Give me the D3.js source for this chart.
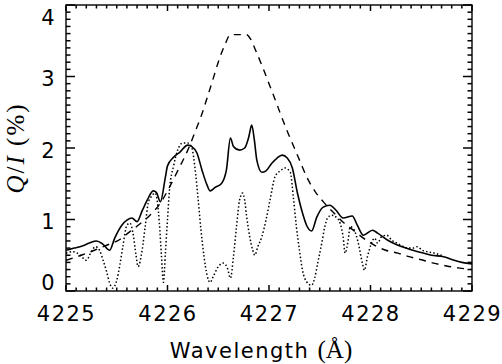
<!DOCTYPE html>
<html>
<head>
<meta charset="utf-8">
<script src="https://cdn.jsdelivr.net/npm/d3@7"></script>
<style>
    body { margin: 0; background: #fff; }
    svg { display: block; }
    .tick text { font-family: "DejaVu Sans", sans-serif; font-size: 21px; letter-spacing: 1.5px; fill: #000; }
    .domain { display: none; }
</style>
</head>
<body>
<svg id="chart"></svg>
<script>
'use strict';

// wavelength grid of each curve (Angstrom) and Q/I in percent
const solidX = [4225.00, 4225.08, 4225.16, 4225.23, 4225.30, 4225.36, 4225.43, 4225.48, 4225.55, 4225.60,
    4225.65, 4225.70, 4225.75, 4225.80, 4225.86, 4225.89, 4225.93, 4225.98, 4226.00, 4226.06,
    4226.12, 4226.20, 4226.24, 4226.29, 4226.34, 4226.39, 4226.42, 4226.47, 4226.53, 4226.58,
    4226.62, 4226.65, 4226.71, 4226.76, 4226.80, 4226.83, 4226.855, 4226.88, 4226.93, 4226.97,
    4227.03, 4227.08, 4227.13, 4227.18, 4227.23, 4227.28, 4227.33, 4227.37, 4227.42, 4227.47,
    4227.53, 4227.60, 4227.66, 4227.73, 4227.82, 4227.87, 4227.93, 4228.02, 4228.07, 4228.17,
    4228.27, 4228.37, 4228.47, 4228.60, 4228.72, 4228.80, 4228.90, 4229.00];
const solidQ = [0.57, 0.60, 0.63, 0.67, 0.70, 0.66, 0.57, 0.74, 0.92, 0.99,
    1.02, 0.97, 1.12, 1.27, 1.40, 1.38, 1.25, 1.60, 1.75, 1.87,
    1.94, 2.04, 2.02, 1.93, 1.69, 1.48, 1.40, 1.45, 1.50, 1.69,
    2.14, 2.02, 1.97, 2.00, 2.15, 2.32, 2.12, 1.83, 1.66, 1.68,
    1.79, 1.86, 1.90, 1.86, 1.72, 1.37, 1.09, 0.92, 0.84, 1.03,
    1.17, 1.20, 1.13, 1.02, 1.05, 0.92, 0.78, 0.85, 0.81, 0.71,
    0.64, 0.59, 0.55, 0.50, 0.48, 0.44, 0.40, 0.38];

const dashedX = [4225.00, 4225.15, 4225.28, 4225.40, 4225.53, 4225.62, 4225.73, 4225.82, 4225.94, 4226.00,
    4226.10, 4226.20, 4226.27, 4226.34, 4226.39, 4226.45, 4226.50, 4226.57, 4226.62, 4226.78,
    4226.82, 4226.87, 4226.94, 4227.00, 4227.06, 4227.12, 4227.19, 4227.25, 4227.31, 4227.37,
    4227.46, 4227.54, 4227.64, 4227.74, 4227.83, 4227.92, 4228.05, 4228.15, 4228.27, 4228.38,
    4228.49, 4228.62, 4228.75, 4228.88, 4229.00];
const dashedQ = [0.43, 0.50, 0.57, 0.64, 0.72, 0.82, 0.94, 1.05, 1.25, 1.40,
    1.68, 1.97, 2.22, 2.48, 2.70, 2.97, 3.20, 3.46, 3.585, 3.585,
    3.52, 3.36, 3.12, 2.90, 2.68, 2.45, 2.20, 2.00, 1.80, 1.60,
    1.38, 1.24, 1.09, 0.95, 0.85, 0.75, 0.63, 0.57, 0.53, 0.48,
    0.44, 0.39, 0.35, 0.32, 0.30];

const dottedX = [4225.00, 4225.07, 4225.14, 4225.20, 4225.25, 4225.29, 4225.33, 4225.37, 4225.40, 4225.43,
    4225.46, 4225.50, 4225.53, 4225.56, 4225.60, 4225.63, 4225.66, 4225.69, 4225.71, 4225.75,
    4225.78, 4225.81, 4225.84, 4225.88, 4225.90, 4225.92, 4225.94, 4225.96, 4225.98, 4226.00,
    4226.02, 4226.06, 4226.10, 4226.15, 4226.20, 4226.24, 4226.27, 4226.30, 4226.33, 4226.36,
    4226.39, 4226.42, 4226.45, 4226.50, 4226.55, 4226.59, 4226.62, 4226.65, 4226.68, 4226.71,
    4226.74, 4226.76, 4226.78, 4226.81, 4226.84, 4226.86, 4226.89, 4226.93, 4226.97, 4227.01,
    4227.06, 4227.11, 4227.16, 4227.21, 4227.24, 4227.27, 4227.30, 4227.33, 4227.37, 4227.42,
    4227.45, 4227.48, 4227.52, 4227.55, 4227.58, 4227.62, 4227.67, 4227.70, 4227.73, 4227.75,
    4227.78, 4227.80, 4227.84, 4227.88, 4227.92, 4227.94, 4227.97, 4228.01, 4228.04, 4228.07,
    4228.11, 4228.16, 4228.21, 4228.26, 4228.31, 4228.37, 4228.42, 4228.46, 4228.51, 4228.56,
    4228.63, 4228.70];
const dottedQ = [0.53, 0.55, 0.50, 0.43, 0.55, 0.62, 0.57, 0.41, 0.27, 0.11,
    0.04, 0.15, 0.36, 0.62, 0.92, 0.95, 0.81, 0.50, 0.34, 0.57,
    0.90, 1.23, 1.32, 1.37, 1.25, 0.95, 0.50, 0.12, 0.55, 1.00,
    1.42, 1.75, 1.97, 2.07, 2.07, 2.00, 1.73, 1.31, 0.85, 0.48,
    0.22, 0.12, 0.20, 0.34, 0.39, 0.32, 0.18, 0.48, 0.90, 1.27,
    1.37, 1.27, 1.04, 0.76, 0.57, 0.50, 0.62, 0.76, 0.99, 1.27,
    1.60, 1.68, 1.72, 1.66, 1.31, 0.90, 0.57, 0.29, 0.13, 0.08,
    0.18, 0.39, 0.67, 0.90, 1.03, 1.06, 1.02, 0.95, 0.76, 0.53,
    0.71, 0.90, 0.85, 0.67, 0.39, 0.29, 0.48, 0.67, 0.74, 0.67,
    0.76, 0.78, 0.71, 0.67, 0.63, 0.60, 0.60, 0.62, 0.57, 0.55,
    0.53, 0.50];

const xMajor = [4225, 4226, 4227, 4228, 4229];
const yMajor = [0, 1, 2, 3, 4];

(function() {
    const d3 = window.d3;
    const width = 502;
    const height = 364;
    const left = 66, right = 472, top = 5, bottom = 291;

    const svg = d3.select('#chart')
        .attr('width', width)
        .attr('height', height);

    const scaleX = d3.scaleLinear().domain([4225, 4229]).range([left, right]);
    const scaleY = d3.scaleLinear().domain([0, 4]).range([bottom, top]);

    // every tenth, major ones longer
    const xTicks = d3.range(0, 41).map(i => ({v: 4225 + i / 10, major: i % 10 === 0}));
    const yTicks = d3.range(0, 41).map(i => ({v: i / 10, major: i % 10 === 0}));

    // clip
    svg.append('clipPath').attr('id', 'plot')
        .append('rect')
        .attr('x', left).attr('y', top)
        .attr('width', right - left).attr('height', bottom - top);

    const line = d3.line()
        .x(d => scaleX(d[0]))
        .y(d => scaleY(d[1]))
        .curve(d3.curveMonotoneX);

    const curves = [
        {x: dashedX, q: dashedQ, dash: '7,6', w: 1.4},
        {x: dottedX, q: dottedQ, dash: '1.5,2.2', w: 1.5},
        {x: solidX, q: solidQ, dash: null, w: 1.6}
    ];

    const g = svg.append('g').attr('clip-path', 'url(#plot)');
    curves.forEach(c => {
        g.append('path')
            .datum(c.x.map((v, i) => [v, c.q[i]]))
            .attr('d', line)
            .attr('fill', 'none')
            .attr('stroke', '#000')
            .attr('stroke-width', c.w)
            .attr('stroke-dasharray', c.dash);
    });

    // Ticks, inward on all four sides
    const tk = svg.append('g').attr('stroke', '#000').attr('stroke-width', 1.5);
    [[bottom, -1], [top, 1]].forEach(([y0, k]) => {
        tk.selectAll(null)
            .data(xTicks)
            .enter()
            .append('line')
            .attr('x1', d => scaleX(d.v)).attr('x2', d => scaleX(d.v))
            .attr('y1', y0).attr('y2', d => y0 + k * (d.major ? 6 : 3.5));
    });
    [[left, 1], [right, -1]].forEach(([x0, k]) => {
        tk.selectAll(null)
            .data(yTicks)
            .enter()
            .append('line')
            .attr('y1', d => scaleY(d.v)).attr('y2', d => scaleY(d.v))
            .attr('x1', x0).attr('x2', d => x0 + k * (d.major ? 9 : 4.5));
    });

    // Labels
    svg.append('g')
        .attr('transform', 'translate(0,' + bottom + ')')
        .call(d3.axisBottom(scaleX).tickValues(xMajor).tickSize(0).tickPadding(15).tickFormat(d3.format('d')));
    const axL = svg.append('g')
        .attr('transform', 'translate(' + left + ',0)')
        .call(d3.axisLeft(scaleY).tickValues(yMajor).tickSize(0).tickPadding(10).tickFormat(d3.format('d')));
    axL.selectAll('text')
        .attr('dy', d => d === 4 ? '0.95em' : d === 0 ? '-0.05em' : '0.45em');

    // frame
    svg.append('rect')
        .attr('x', left).attr('y', top)
        .attr('width', right - left).attr('height', bottom - top)
        .attr('fill', 'none').attr('stroke', '#000').attr('stroke-width', 1.4);

    // axis titles
    const xt = svg.append('text')
        .attr('x', (left + right) / 2 - 8)
        .attr('y', 358)
        .attr('text-anchor', 'middle')
        .attr('font-size', 21);
    xt.append('tspan')
        .attr('font-family', '"DejaVu Sans", sans-serif')
        .attr('letter-spacing', 1.5)
        .text('Wavelength ');
    xt.append('tspan')
        .attr('font-family', '"Liberation Serif", serif')
        .attr('font-size', 25)
        .text('(Å)');

    const yt = svg.append('text')
        .attr('transform', 'translate(24,' + ((top + bottom) / 2) + ') rotate(-90)')
        .attr('text-anchor', 'middle')
        .attr('font-family', '"Liberation Serif", serif')
        .attr('font-size', 25)
        .attr('letter-spacing', 2);
    yt.append('tspan').attr('font-style', 'italic').text('Q');
    yt.append('tspan').text('/');
    yt.append('tspan').attr('font-style', 'italic').text('I');
    yt.append('tspan').text(' (%)');
}());
</script>
</body>
</html>
